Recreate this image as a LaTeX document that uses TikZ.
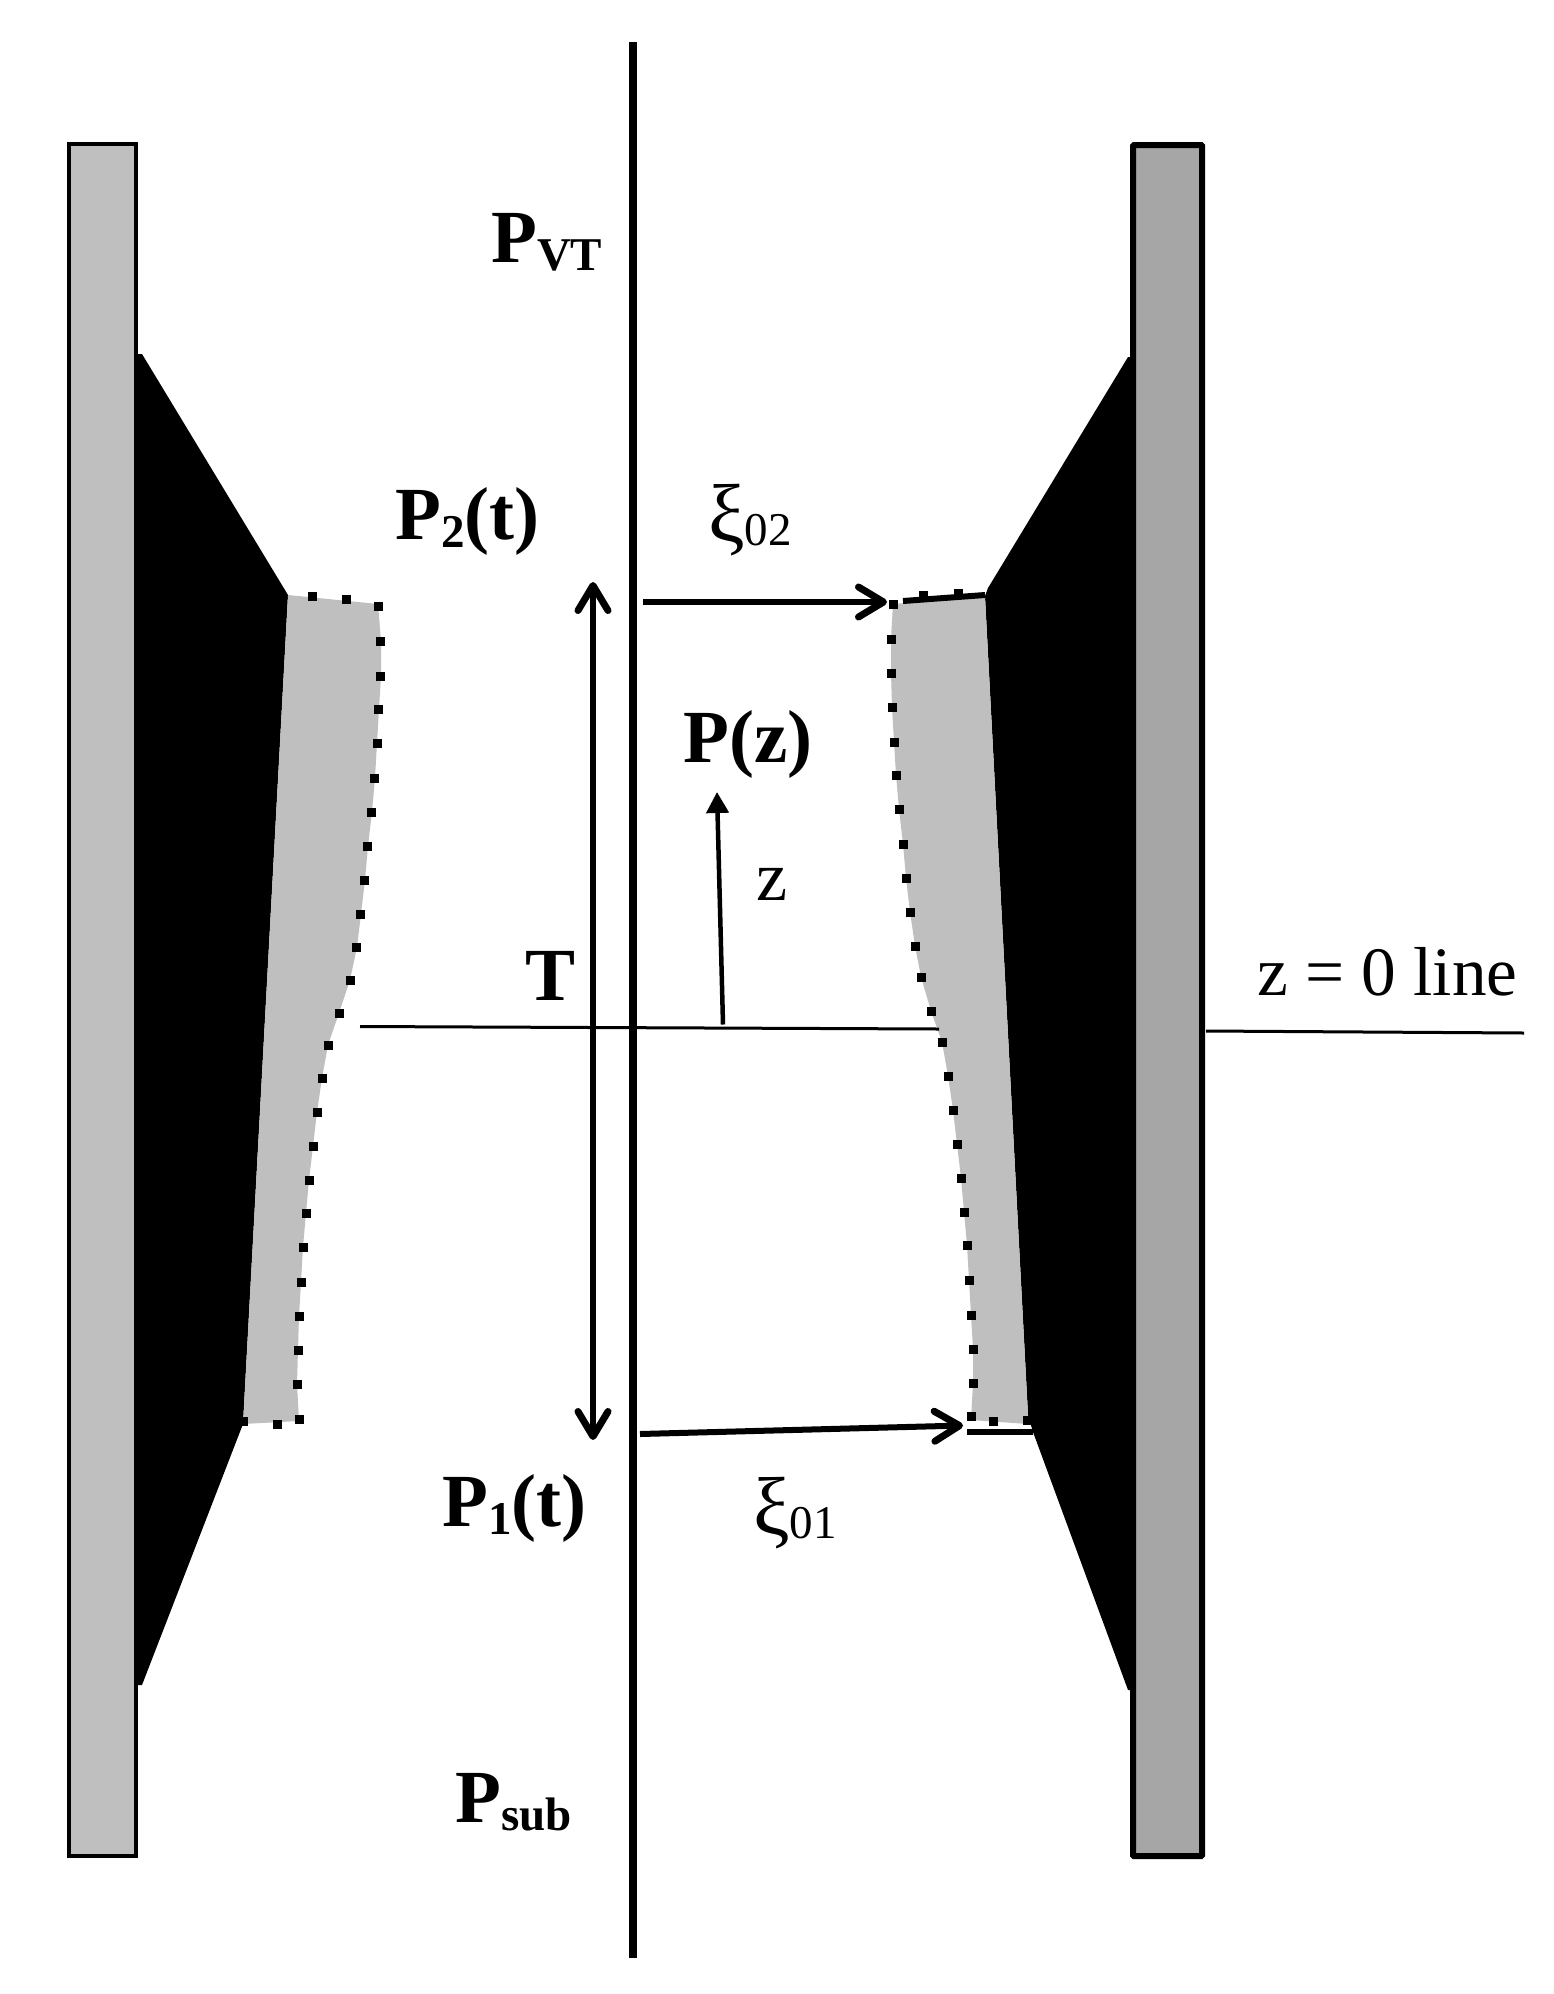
\documentclass[tikz,border=0pt]{standalone}
\usepackage{xcolor}
\usepackage{fontspec}
\setmainfont{Liberation Serif}
\usetikzlibrary{arrows.meta}
\definecolor{wallleft}{HTML}{BFBFBF}
\definecolor{wallright}{HTML}{A6A6A6}
\newcommand{\boldsz}{\fontsize{75}{80}\selectfont\bfseries}
\newcommand{\lowbf}[1]{\raisebox{-8pt}{\fontsize{47}{50}\selectfont\bfseries #1}}
\newcommand{\lowrm}[1]{\raisebox{-4pt}{\fontsize{47}{50}\selectfont #1}}
\newcommand{\bigxi}{{\fontsize{82}{86}\selectfont ξ}}
\begin{document}
\begin{tikzpicture}
      [ x=1pt, y=-1pt,
        boldlab/.style={inner sep=0pt, anchor=base west, font=\boldsz},
        plainlab/.style={inner sep=0pt, anchor=base west, font=\fontsize{70}{74}\selectfont},
        barb/.tip={Straight Barb[length=25pt,width=30pt,round,line width=7pt]},
        barbarrow/.style={line width=6pt, -barb},
        midline/.style={line width=3pt}
      ]
      \useasboundingbox (0,0) rectangle (1553,1994);
      \fill[white] (0,0) rectangle (1553,1994);

      \fill (136,354) -- (142,354) -- (288,595) -- (243,1424) -- (142,1685) -- (136,1685) -- cycle;
      \fill (1136,357) -- (1128,357) -- (988,588) -- (985,596) -- (1028,1415) -- (1033,1432)
            -- (1128,1690) -- (1136,1690) -- cycle;

      \draw[fill=wallleft, line width=4pt] (69,144) rectangle (136,1856);
      \draw[fill=wallright, line width=6pt, rounded corners=1pt] (1133,145) rectangle (1202,1856);

      \fill[wallleft] (288,595) -- (378,604) -- (381,641) -- (381,676) -- (379,709) -- (377,743)
            -- (375,778) -- (372,812) -- (368,846) -- (365,880) -- (361,914) -- (357,947)
            -- (350,980) -- (339,1013) -- (328,1045) -- (322,1078) -- (317,1112) -- (313,1146)
            -- (309,1180) -- (306,1213) -- (303,1247) -- (301,1282) -- (299,1316) -- (298,1350)
            -- (297,1384) -- (299,1421) -- (243,1424) -- cycle;
      \fill[wallleft] (893,604) -- (985,597) -- (1028,1415) -- (1028,1424) -- (971,1420)
            -- (973,1383) -- (973,1349) -- (971,1315) -- (969,1280) -- (967,1245) -- (964,1212)
            -- (961,1178) -- (957,1144) -- (953,1110) -- (948,1076) -- (942,1042) -- (931,1011)
            -- (921,977) -- (915,946) -- (910,912) -- (906,878) -- (903,844) -- (899,809)
            -- (896,775) -- (894,742) -- (892,707) -- (891,673) -- (891,639) -- cycle;

      \foreach \x/\y in {312/596, 346/599, 378/606, 380/641, 380/676, 378/709, 377/743, 374/778,
                         371/812, 367/846, 364/880, 360/914, 356/947, 350/980, 339/1013, 328/1045,
                         322/1078, 317/1112, 313/1146, 309/1180, 306/1213, 303/1247, 301/1282,
                         299/1316, 298/1350, 297/1384, 299/1419, 277/1424, 243/1421,
                         893/604, 923/595, 958/593,
                         891/639, 891/673, 892/707, 894/742, 896/775, 899/809, 903/844, 906/878,
                         910/912, 915/946, 921/977, 931/1011, 942/1042, 948/1076, 953/1110,
                         957/1144, 961/1178, 964/1212, 967/1245, 969/1280, 971/1315, 973/1349,
                         973/1383, 971/1416, 993/1421, 1027/1420}
        \fill (\x-4.5,\y-4.5) rectangle (\x+4.5,\y+4.5);

      \coordinate (axistop) at (633,42);
      \coordinate (axisbot) at (633,1958);
      \coordinate (zeroa) at (360,1026.5);
      \coordinate (zerob) at (939,1029);
      \coordinate (zeroc) at (1206,1031);
      \coordinate (zerod) at (1524,1033);
      \coordinate (thicktop) at (593,582);
      \coordinate (thickbot) at (593,1440);
      \coordinate (xitwostart) at (643,602);
      \coordinate (xitwoend) at (887,602);
      \coordinate (xionestart) at (640,1434);
      \coordinate (xioneend) at (963,1425.5);
      \coordinate (zfoot) at (723,1024.5);
      \coordinate (ztip) at (717,792);
      \coordinate (topa) at (903,601);
      \coordinate (topb) at (985,595);
      \coordinate (bota) at (967,1432);
      \coordinate (botb) at (1033,1432);

      \draw[midline] (zeroa) -- (zerob);
      \draw[midline] (zeroc) -- (zerod);
      \draw[line width=8pt] (axistop) -- (axisbot);
      \draw[barbarrow, barb-barb] (thicktop) -- (thickbot);
      \draw[barbarrow] (xitwostart) -- (xitwoend);
      \draw[barbarrow] (xionestart) -- (xioneend);
      \draw[line width=4.5pt, -{Triangle[length=21pt,width=22pt]}] (zfoot) -- (ztip);
      \draw[line width=6pt] (topa) -- (topb);
      \draw[line width=6pt] (bota) -- (botb);

      \node[boldlab] (pvt)  at (491,262)  {P\lowbf{VT}};
      \node[boldlab] (ptwo) at (395,539)  {P\lowbf{2}(t)};
      \node[boldlab] (pone) at (442,1526) {P\lowbf{1}(t)};
      \node[boldlab] (psub) at (455,1822) {P\lowbf{sub}};
      \node[boldlab] (pz)   at (683,762)  {P(z)};
      \node[boldlab] (thick) at (525,1000) {T};
      \node[plainlab] (zlab) at (756,900) {z};
      \node[plainlab] (zeroline) at (1257,995) {\fontsize{69.3}{72}\selectfont z = 0 line};
      \node[plainlab] (xitwo) at (708,541) {\bigxi\lowrm{02}};
      \node[plainlab] (xione) at (753,1534) {\bigxi\lowrm{01}};
\end{tikzpicture}
\end{document}
